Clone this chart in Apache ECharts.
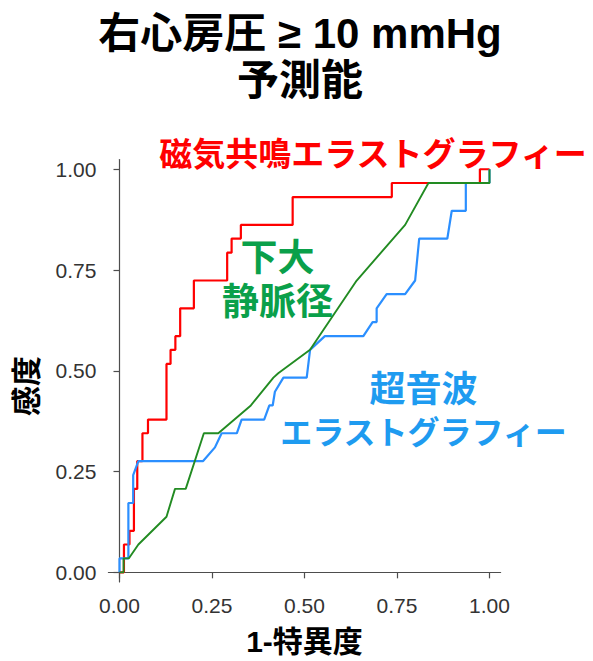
<!DOCTYPE html>
<html>
<head>
<meta charset="utf-8">
<script src="https://cdn.jsdelivr.net/npm/echarts@6/dist/echarts.min.js"></script>
<style>
html,body{margin:0;padding:0;background:#fff;}
#chart{width:593px;height:661px;}
</style>
</head>
<body>
<div id="chart"></div>
<script>
// Tick labels
const tickValues = [0, 0.25, 0.5, 0.75, 1.0];

// MR elastography (red)
const mreX = [0,0.012,0.012,0.027,0.027,0.039,0.039,0.048,0.048,0.062,0.062,0.077,0.077,0.127,0.127,0.138,0.138,0.151,0.151,0.164,0.164,0.201,0.201,0.291,0.291,0.303,0.303,0.328,0.328,0.468,0.468,0.736,0.736,0.974,0.974,1.0];
const mreY = [0,0,0.069,0.069,0.103,0.103,0.207,0.207,0.276,0.276,0.345,0.345,0.379,0.379,0.517,0.517,0.552,0.552,0.586,0.586,0.655,0.655,0.724,0.724,0.793,0.793,0.828,0.828,0.862,0.862,0.931,0.931,0.966,0.966,1.0,1.0];

// Ultrasound elastography (blue)
const usX = [0,0,0.024,0.024,0.037,0.037,0.051,0.226,0.258,0.276,0.317,0.330,0.391,0.405,0.414,0.420,0.443,0.506,0.515,0.555,0.659,0.684,0.695,0.695,0.722,0.772,0.799,0.810,0.886,0.898,0.936,0.936,1.0,1.0];
const usY = [0,0.0345,0.0345,0.172,0.172,0.241,0.276,0.276,0.310,0.345,0.345,0.379,0.379,0.414,0.414,0.448,0.483,0.483,0.552,0.586,0.586,0.621,0.621,0.655,0.690,0.690,0.724,0.828,0.828,0.897,0.897,0.966,0.966,1.0];

// IVC diameter (green)
const ivcX = [0,0.011,0.011,0.025,0.051,0.127,0.150,0.179,0.228,0.267,0.355,0.416,0.429,0.515,0.641,0.772,0.835,1.0,1.0];
const ivcY = [0,0,0.0345,0.0345,0.069,0.138,0.207,0.207,0.345,0.345,0.414,0.483,0.494,0.552,0.724,0.862,0.966,0.966,1.0];

const zip = (xs, ys) => xs.map((x, i) => [x, ys[i]]);

const LATIN = '"Liberation Sans", Arial, "Noto Sans CJK JP", sans-serif';
const JP = '"Noto Sans CJK JP", "Liberation Sans", sans-serif';

const chart = echarts.init(document.getElementById('chart'), null, {renderer: 'svg'});

const axisCommon = {
  type: 'value',
  splitLine: {show: false},
  axisLine: {show: true, lineStyle: {color: '#4d4d4d', width: 1.2}},
  axisTick: {show: true, length: 6, lineStyle: {color: '#4d4d4d', width: 1.2}, customValues: tickValues},
  axisLabel: {color: '#333', fontSize: 21, fontFamily: LATIN, customValues: tickValues,
    formatter: v => v.toFixed(2)}
};

chart.setOption({
  animation: false,
  backgroundColor: '#fff',
  grid: {left: 108.4, right: 92.4, top: 159.6, bottom: 79, containLabel: false},
  xAxis: Object.assign({}, axisCommon, {min: -0.03, max: 1.03,
    axisLabel: Object.assign({}, axisCommon.axisLabel, {margin: 13})}),
  yAxis: Object.assign({}, axisCommon, {min: -0.024, max: 1.024,
    axisLabel: Object.assign({}, axisCommon.axisLabel, {margin: 12})}),
  series: [
    {name: '磁気共鳴エラストグラフィー', type: 'line', data: zip(mreX, mreY), showSymbol: false,
      lineStyle: {color: '#ff0000', width: 2.2}, z: 2},
    {name: '超音波エラストグラフィー', type: 'line', data: zip(usX, usY), showSymbol: false,
      lineStyle: {color: '#2b8fff', width: 2.2}, z: 3},
    {name: '下大静脈径', type: 'line', data: zip(ivcX, ivcY), showSymbol: false,
      lineStyle: {color: '#228b22', width: 1.9}, z: 4}
  ],
  graphic: [
    {type: 'text', x: 300, y: 56.5, style: {text: '右心房圧 ≥ 10 mmHg\n予測能', font: 'bold 42px ' + LATIN, lineHeight: 47, fill: '#000', align: 'center', verticalAlign: 'middle'}},
    {type: 'text', x: 373, y: 152, style: {text: '磁気共鳴エラストグラフィー', font: 'bold 33px ' + JP, fill: '#ff0000', align: 'center', verticalAlign: 'middle'}},
    {type: 'text', x: 277.5, y: 280.5, style: {text: '下大\n静脈径', font: 'bold 37px ' + LATIN, lineHeight: 44.5, fill: '#0aa04a', align: 'center', verticalAlign: 'middle'}},
    {type: 'text', x: 423.5, y: 411, style: {
      text: '{a|超音波}\n{b|エラストグラフィー}', align: 'center', verticalAlign: 'middle',
      rich: {
        a: {fontSize: 36, fontWeight: 'bold', fontFamily: LATIN, fill: '#1e9bf0', lineHeight: 44, align: 'center'},
        b: {fontSize: 32, fontWeight: 'bold', fontFamily: LATIN, fill: '#1e9bf0', lineHeight: 43, align: 'center'}
      }}},
    {type: 'text', x: 304.5, y: 641, style: {text: '1-特異度', font: 'bold 30px ' + LATIN, fill: '#000', align: 'center', verticalAlign: 'middle'}},
    {type: 'text', x: 24, y: 386, rotation: Math.PI / 2, style: {text: '感度', font: 'bold 30px ' + JP, fill: '#000', align: 'center', verticalAlign: 'middle'}}
  ]
});
</script>
</body>
</html>
